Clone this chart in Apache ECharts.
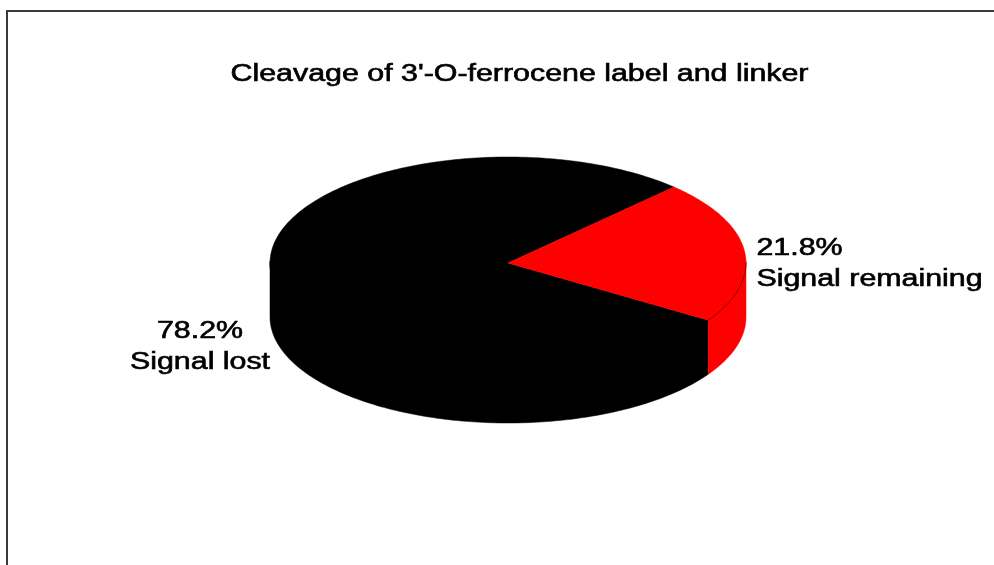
<!DOCTYPE html>
<html>
<head>
<meta charset="utf-8">
<script src="https://cdn.jsdelivr.net/npm/echarts@6/dist/echarts.min.js"></script>
<style>
  html, body { margin: 0; padding: 0; background: #ffffff; }
  #chart { width: 994px; height: 565px; }
</style>
</head>
<body>
<div id="chart"></div>
<script>
// ---- data ----
const categories = ['Signal lost', 'Signal remaining'];
const shares = [78.2, 21.8];
const sliceColors = ['#000000', '#ff0000'];
const titleText = "Cleavage of 3'-O-ferrocene label and linker";

// ---- layout / style ----
const PIE = { cx: 508, cy: 263, rx: 238, ry: 106, depth: 54, startDeg: 45.8 };
const FONT_SIZE = 23;
const FONT_FAMILY = '"Liberation Sans", Arial, Helvetica, sans-serif';
const TEXT_STRETCH = 1.32;   // horizontal stretch applied to all text
const TEXT_WEIGHT_STROKE = 0.6;
const LINE_H = 31;
// label anchor shift from the rim point at each slice's mid angle
const LABEL_SHIFT = [[-1.5, 72], [12, 13.5]];

const total = shares.reduce((a, b) => a + b, 0);
const slices = [];
(function () {
  let acc = PIE.startDeg;
  shares.forEach((v, i) => {
    const span = 360 * v / total;
    slices.push({ a0: acc, a1: acc + span, mid: acc + span / 2 });
    acc += span;
  });
})();

const measureCtx = document.createElement('canvas').getContext('2d');
measureCtx.font = FONT_SIZE + 'px ' + FONT_FAMILY;
function textWidth(s) { return measureCtx.measureText(s).width * TEXT_STRETCH; }

function ellPt(deg, dy) {
  const r = deg * Math.PI / 180;
  return [PIE.cx + PIE.rx * Math.cos(r), PIE.cy - PIE.ry * Math.sin(r) + (dy || 0)];
}
function arcPts(a0, a1, dy) {
  const n = Math.max(2, Math.ceil(Math.abs(a1 - a0)));
  const pts = [];
  for (let k = 0; k <= n; k++) pts.push(ellPt(a0 + (a1 - a0) * k / n, dy));
  return pts;
}
// parts of [a0, a1] lying on the front (lower) half of the ellipse
function frontRanges(a0, a1) {
  const out = [];
  for (let base = -720; base <= 720; base += 360) {
    const lo = Math.max(a0, base + 180), hi = Math.min(a1, base + 360);
    if (hi > lo) out.push([lo, hi]);
  }
  return out;
}

function renderSlice(params, api) {
  const i = params.dataIndex;
  const s = slices[i];
  const color = sliceColors[i];
  const children = [];

  // cylinder wall (its top edge tucks slightly under the top face)
  frontRanges(s.a0, s.a1).forEach(([lo, hi]) => {
    const top = arcPts(lo, hi, -2);
    const bottom = arcPts(hi, lo, PIE.depth);
    children.push({
      type: 'polygon', z2: 1,
      shape: { points: top.concat(bottom) },
      style: { fill: color, stroke: color, lineWidth: 0.5 }
    });
    children.push({
      type: 'polyline', z2: 6,
      shape: { points: arcPts(lo, hi, 0) },
      style: { fill: null, stroke: 'rgba(0,0,0,0.5)', lineWidth: 1 }
    });
  });

  // top face
  children.push({
    type: 'polygon', z2: 5,
    shape: { points: [[PIE.cx, PIE.cy]].concat(arcPts(s.a0, s.a1, 0)) },
    style: { fill: color, stroke: color, lineWidth: 0.5 }
  });

  // label
  const pct = (api.value(0) / total * 100).toFixed(1) + '%';
  const lines = [pct, categories[i]];
  const rim = ellPt(s.mid, 0);
  const ax = rim[0] + LABEL_SHIFT[i][0];
  const ay = rim[1] + LABEL_SHIFT[i][1];
  const rightSide = Math.cos(s.mid * Math.PI / 180) >= 0;
  const bw = Math.max.apply(null, lines.map(textWidth));
  children.push({
    type: 'text', z2: 10,
    x: rightSide ? ax : ax - bw / 2,
    y: ay,
    scaleX: TEXT_STRETCH,
    style: {
      text: lines.join('\n'),
      x: 0, y: 0,
      fill: '#000000',
      stroke: '#000000',
      lineWidth: TEXT_WEIGHT_STROKE,
      fontSize: FONT_SIZE,
      fontFamily: FONT_FAMILY,
      lineHeight: LINE_H,
      align: rightSide ? 'left' : 'center',
      verticalAlign: 'middle'
    }
  });

  return { type: 'group', children: children };
}

const chart = echarts.init(document.getElementById('chart'), null, { renderer: 'canvas' });
chart.setOption({
  animation: false,
  backgroundColor: '#ffffff',
  graphic: [
    {
      type: 'rect', z: 0,
      shape: { x: 7, y: 11, width: 1000, height: 600 },
      style: { fill: null, stroke: '#3a3a3a', lineWidth: 2 }
    },
    {
      type: 'text', z: 10,
      x: 519.5, y: 75,
      scaleX: TEXT_STRETCH,
      style: {
        text: titleText,
        x: 0, y: 0,
        fill: '#000000',
        stroke: '#000000',
        lineWidth: TEXT_WEIGHT_STROKE,
        fontSize: FONT_SIZE,
        fontFamily: FONT_FAMILY,
        align: 'center',
        verticalAlign: 'middle'
      }
    }
  ],
  series: [{
    type: 'custom',
    coordinateSystem: 'none',
    renderItem: renderSlice,
    data: shares.map((v, i) => ({ value: [v], name: categories[i] }))
  }]
});
</script>
</body>
</html>
